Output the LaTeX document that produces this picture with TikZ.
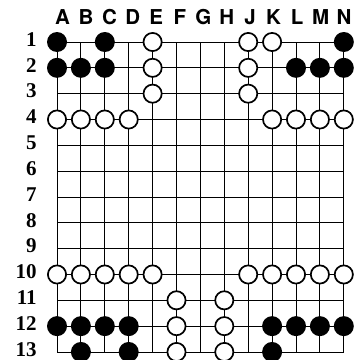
\documentclass[tikz,border=0pt]{standalone}
\usepackage{fontspec}
\setmainfont{TeX Gyre Heros}
\newfontfamily\rowfont{Liberation Serif}
\begin{document}
\begin{tikzpicture}[x=23.9pt, y=-25.83pt,
    collabel/.style={inner sep=0pt, font=\fontsize{20.5}{20.5}\selectfont\bfseries},
    rowlabel/.style={inner sep=0pt, anchor=east, font=\rowfont\fontsize{21}{21}\selectfont\bfseries},
    blackstone/.style={fill=black},
    whitestone/.style={draw=black, fill=white, line width=1.7pt}]
    \useasboundingbox (-1.385,-0.626) rectangle (13.385,13.311);
    % grid lines
    \foreach \i in {1,...,13} {
      \draw[line width=0.9pt] (1,\i) -- (13,\i);
      \draw[line width=0.9pt] (\i,1) -- (\i,13);
    }
    % coordinate labels
    \foreach \c [count=\i] in {A,B,C,D,E,F,G,H,J,K,L,M,N}
      \node[collabel] (col\c) at ({0.2485+0.9815*\i},0.05) {\c};
    \foreach \r in {1,...,13}
      \node[rowlabel] (row\r) at (0.16,\r-0.1) {\r};
    % black stones
    \foreach \x/\y in {1/1,3/1,13/1,1/2,2/2,3/2,11/2,12/2,13/2,
        1/12,2/12,3/12,4/12,10/12,11/12,12/12,13/12,2/13,4/13,10/13}
      \fill[blackstone] (\x,\y) circle[radius=10pt];
    % white stones
    \foreach \x/\y in {5/1,9/1,10/1,5/2,9/2,5/3,9/3,
        1/4,2/4,3/4,4/4,10/4,11/4,12/4,13/4,
        1/10,2/10,3/10,4/10,5/10,9/10,10/10,11/10,12/10,13/10,
        6/11,8/11,6/12,8/12,6/13,8/13}
      \draw[whitestone] (\x,\y) circle[radius=9.1pt];
\end{tikzpicture}
\end{document}
